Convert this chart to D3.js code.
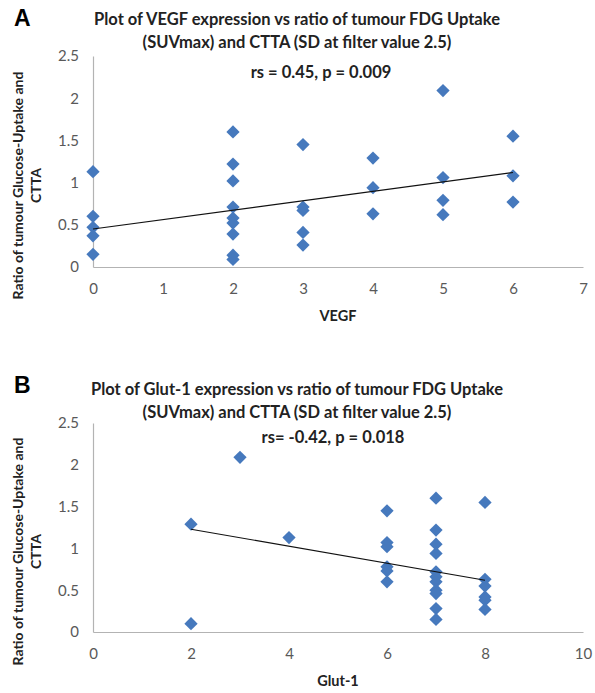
<!DOCTYPE html>
<html>
<head>
<meta charset="utf-8">
<script src="https://cdn.jsdelivr.net/npm/d3@7"></script>
<style>
  body { margin: 0; background: #fff; }
  svg { display: block; font-family: Lato, "Open Sans", sans-serif; }
</style>
</head>
<body>
<svg width="595" height="693"></svg>
<script>
// panel A - VEGF score vs uptake ratio
const vegfX = [0, 0, 0, 0, 0,
  2, 2, 2, 2, 2, 2, 2, 2, 2,
  3, 3, 3, 3, 3,
  4, 4, 4,
  5, 5, 5, 5,
  6, 6, 6];
const vegfY = [1.13, 0.60, 0.47, 0.37, 0.15,
  1.60, 1.22, 1.02, 0.71, 0.58, 0.52, 0.39, 0.14, 0.09,
  1.45, 0.71, 0.67, 0.41, 0.26,
  1.29, 0.94, 0.63,
  2.09, 1.06, 0.79, 0.62,
  1.55, 1.08, 0.77];
const vegfTrend = [[0, 0.45], [6, 1.12]];

// panel B - Glut-1 score vs uptake ratio
const glutX = [2, 2, 3, 4,
  6, 6, 6, 6, 6, 6,
  7, 7, 7, 7, 7, 7, 7, 7, 7, 7, 7,
  8, 8, 8, 8, 8, 8];
const glutY = [1.29, 0.10, 2.09, 1.13,
  1.45, 1.07, 1.02, 0.78, 0.73, 0.60,
  1.60, 1.22, 1.05, 0.94, 0.72, 0.66, 0.60, 0.50, 0.46, 0.28, 0.15,
  1.55, 0.63, 0.55, 0.42, 0.38, 0.27];
const glutTrend = [[2, 1.23], [8, 0.62]];

// tick labels
const yTicks = [0, 0.5, 1, 1.5, 2, 2.5];
const vegfTicks = [0, 1, 2, 3, 4, 5, 6, 7];
const glutTicks = [0, 2, 4, 6, 8, 10];

const svg = d3.select("svg");
const left = 93, right = 583;
const blue = "#4679bd";
const grey = "#595959";

function drawPanel(p) {
  const g = svg.append("g");

  const x = d3.scaleLinear().domain(p.xDomain).range([left, right]);
  const y = d3.scaleLinear().domain([0, 2.5]).range([p.bottom, p.top]);

  // panel letter
  g.append("text")
    .attr("x", 14).attr("y", p.top - 30)
    .attr("font-family", "Liberation Sans, Arial, sans-serif")
    .attr("font-weight", "bold").attr("font-size", 23)
    .text(p.letter);

  // title, two lines, plus the rs line
  p.title.forEach((t, i) => {
    g.append("text")
      .attr("x", 297).attr("y", p.titleY[i])
      .attr("text-anchor", "middle")
      .attr("font-weight", "bold").attr("font-size", 16.5)
      .attr("fill", "#222")
      .text(t);
  });
  g.append("text")
    .attr("x", p.statX).attr("y", p.titleY[2])
    .attr("text-anchor", "middle")
    .attr("font-weight", "bold").attr("font-size", 16.5)
    .attr("fill", "#222")
    .text(p.stat);

  // axes
  const xAxis = d3.axisBottom(x).tickValues(p.xTicks).tickSize(0).tickPadding(16)
    .tickFormat(d3.format("d"));
  const yAxis = d3.axisLeft(y).tickValues(yTicks).tickSize(0).tickPadding(14)
    .tickFormat(d => String(d));

  const ax = g.append("g").attr("transform", `translate(0,${p.bottom})`).call(xAxis);
  const ay = g.append("g").attr("transform", `translate(${left},0)`).call(yAxis);
  [ax, ay].forEach(a => {
    a.select(".domain").attr("stroke", "#b3b3b3").attr("stroke-width", 1.2);
    a.selectAll("text").attr("font-family", "Lato, sans-serif")
      .attr("font-size", 15).attr("fill", grey);
  });

  // axis titles
  g.append("text")
    .attr("x", (left + right) / 2).attr("y", p.bottom + 54)
    .attr("text-anchor", "middle")
    .attr("font-weight", "bold").attr("font-size", 14.5).attr("fill", "#222")
    .text(p.xLabel);

  const yl = g.append("text")
    .attr("transform", `translate(23,${(p.top + p.bottom) / 2 + 24}) rotate(-90)`)
    .attr("text-anchor", "middle")
    .attr("font-weight", "bold").attr("font-size", 14).attr("fill", "#222");
  yl.append("tspan").attr("x", 0).attr("dy", 0).text("Ratio of tumour Glucose-Uptake and");
  yl.append("tspan").attr("x", 0).attr("dy", 18).text("CTTA");

  // markers
  const diamond = d3.symbol().type(d3.symbolSquare).size(88);
  g.selectAll("path.pt")
    .data(d3.zip(p.xs, p.ys))
    .join("path")
    .attr("class", "pt")
    .attr("d", diamond)
    .attr("fill", blue)
    .attr("transform", d => `translate(${x(d[0])},${y(d[1])}) rotate(45)`);

  // linear trend line, drawn over the markers
  g.append("path")
    .datum(p.trend)
    .attr("fill", "none").attr("stroke", "#111").attr("stroke-width", 1.1)
    .attr("d", d3.line().x(d => x(d[0])).y(d => y(d[1])));
}

drawPanel({
  letter: "A",
  top: 56, bottom: 267,
  xDomain: [0, 7], xTicks: vegfTicks,
  xs: vegfX, ys: vegfY, trend: vegfTrend,
  title: ["Plot of VEGF expression vs ratio of tumour FDG Uptake",
          "(SUVmax) and CTTA (SD at filter value 2.5)"],
  stat: "rs  = 0.45, p = 0.009", statX: 321,
  titleY: [25, 48, 78],
  xLabel: "VEGF"
});

drawPanel({
  letter: "B",
  top: 423, bottom: 632,
  xDomain: [0, 10], xTicks: glutTicks,
  xs: glutX, ys: glutY, trend: glutTrend,
  title: ["Plot of Glut-1 expression vs ratio of tumour FDG Uptake",
          "(SUVmax) and CTTA (SD at filter value 2.5)"],
  stat: "rs= -0.42, p = 0.018", statX: 333,
  titleY: [395, 418, 443],
  xLabel: "Glut-1"
});
</script>
</body>
</html>
